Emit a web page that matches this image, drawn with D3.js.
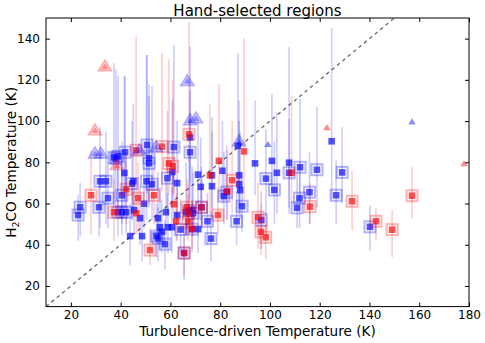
<!DOCTYPE html>
<html><head><meta charset="utf-8">
<script src="https://cdn.jsdelivr.net/npm/d3@7"></script>
<style>body{margin:0;background:#fff}text{font-family:"DejaVu Sans",sans-serif}</style>
</head><body><svg id="c" width="485" height="343"></svg>
<script>
// [x, y, errLow, errHigh, outlined]
const blueSquares = [
 [22.9,54.4,42,64,1],[23.7,58.2,44,70,1],[31.3,58.2,44,72,1],[31.7,70.8,48,97,1],[34.1,70.8,50,95,1],
 [34.9,62.6,48,80,1],[37.3,82.4,60,128,1],[38.1,81.8,58,125,1],[38.9,82.9,57,122,1],[38.9,55.8,44,78,1],
 [40.5,55.8,45,82,1],[42.2,55.8,46,85,1],[40.5,64.0,50,90,1],[41.5,74.8,58,122,0],[41.8,84.9,62,122,1],
 [44.6,69.7,52,100,1],[45.1,70.8,55,108,0],[45.4,56.8,45,72,0],[47.8,52.9,40,68,0],[49.4,59.9,48,78,0],
 [43.8,44.2,30,60,0],[48.6,44.2,32,58,0],[50.4,70.8,52,132,1],[52.6,69.4,52,117,1],[50.6,88.4,65,132,1],
 [51.4,82.0,60,118,1],[51.4,79.5,58,112,1],[54.4,44.2,34,60,1],[55.0,43.2,32,58,1],[55.0,52.9,40,75,0],
 [55.8,48.5,38,68,0],[57.8,40.3,28,52,1],[58.2,55.8,45,72,0],[61.4,87.4,65,137,1],[58.8,72.3,55,105,1],
 [60.8,75.3,58,110,0],[62.7,69.9,52,100,0],[59.0,48.5,36,65,0],[60.6,48.5,36,68,0],[64.1,47.4,36,62,1],
 [65.5,36.0,23,50,1],[62.7,54.4,42,72,0],[66.3,55.8,45,80,0],[67.5,56.5,45,85,1],[68.7,56.8,46,78,0],
 [69.1,55.3,44,75,1],[68.7,47.6,36,62,1],[71.1,47.6,36,62,0],[72.5,58.2,46,78,1],[67.9,92.1,70,136,0],
 [67.9,84.9,62,115,1],[71.1,74.0,58,100,0],[72.2,68.1,52,92,0],[76.7,73.7,58,102,0],[76.7,68.4,52,95,0],
 [74.9,51.4,40,65,1],[76.3,43.0,32,56,1],[80.9,75.9,60,100,0],[81.5,63.6,50,85,1],[82.6,65.5,52,88,1],
 [87.6,73.7,58,110,0],[87.6,69.4,55,100,0],[88.0,66.5,52,95,0],[86.6,51.4,40,66,1],[88.8,58.7,46,75,1],
 [87.1,88.0,70,133,0],[94.0,79.5,64,110,0],[100.8,80.7,65,113,0],[107.7,79.8,55,136,0],[112.1,77.6,60,111,1],
 [118.9,76.4,58,107,1],[124.8,90.2,62,145,0],[102.8,74.9,55,104,0],[107.7,74.9,58,101,1],[98.4,72.1,55,96,1],
 [101.8,66.6,50,90,1],[115.9,65.5,50,85,1],[111.9,62.6,48,80,1],[126.6,64.0,50,81,1],[129.0,75.1,60,97,1],
 [110.9,57.9,48,76,1],[96.5,52.0,38,66,1],[140.2,48.7,37,59,1],[56.5,46.3,36,62,0]
];
const redSquares = [
 [28.1,64.0,45,86,1],[37.3,55.8,42,72,1],[42.2,66.9,50,85,1],[46.2,55.3,45,70,0],[47.0,62.6,46,80,1],
 [53.4,64.0,50,78,1],[51.8,37.4,30,48,1],[46.2,85.8,70,141,1],[56.6,87.6,66,133,1],[67.5,93.6,80,148,1],
 [59.4,79.4,64,130,1],[60.9,78.1,64,120,1],[61.4,59.7,50,75,0],[62.3,51.4,42,65,0],[66.7,58.2,48,72,1],
 [67.3,55.3,45,70,1],[67.1,51.0,42,64,1],[75.9,73.7,55,108,0],[79.5,80.7,62,118,0],[79.1,54.4,45,68,1],
 [84.8,71.3,55,100,1],[89.6,85.3,62,140,0],[82.9,66.0,52,86,0],[95.2,53.3,38,70,1],[96.4,46.3,35,60,1],
 [98.3,43.6,33,56,1],[108.7,74.9,60,112,0],[116.1,58.5,50,70,1],[133.0,61.1,47,76,1],[142.6,51.4,42,58,1],
 [149.1,47.3,34,57,1],[157.1,63.8,53,78,1],[65.5,36.0,25,48,1],[68.7,47.6,38,60,0],[72.5,58.2,48,72,1]
];
// [x, y, outlined]
const redTriangles = [[33.7,126.5,1],[29.7,95.5,1],[38.5,78.6,1],[122.9,96.9,0],[178,79.4,0]];
const blueTriangles = [[29.7,84.2,1],[32.1,84.2,1],[66.8,119.4,1],[67.9,100.4,1],[70.3,101.3,1],
 [54.2,87.4,1],[47.5,85.8,1],[87.6,90.2,1],[99.2,88.7,0],[157.1,99.7,0]];
const xTicks = [20,40,60,80,100,120,140,160,180];
const yTicks = [20,40,60,80,100,120,140];
const title = "Hand-selected regions";
const xLabel = "Turbulence-driven Temperature (K)";

const svg = d3.select("#c");
const m = {l:46, r:16, t:18, b:36.4};
const W = 485, H = 343;
const x = d3.scaleLinear().domain([10,180]).range([m.l, W-m.r]);
const y = d3.scaleLinear().domain([10,150]).range([H-m.b, m.t]);

svg.append("defs").append("clipPath").attr("id","clip")
  .append("rect").attr("x",m.l).attr("y",m.t).attr("width",W-m.l-m.r).attr("height",H-m.t-m.b);
const g = svg.append("g").attr("clip-path","url(#clip)");

// dashed 1:1 line
g.append("line").attr("x1",x(10)).attr("y1",y(10)).attr("x2",x(150)).attr("y2",y(150))
  .attr("stroke","#6e6e6e").attr("stroke-width",1.4).attr("stroke-dasharray","3.5,3.5");

const BLUE = "#0000ff", RED = "#ff0000";
function errbars(data,col){
  g.append("g").selectAll("line").data(data).join("line")
    .attr("x1",d=>x(d[0])).attr("x2",d=>x(d[0])).attr("y1",d=>y(d[2])).attr("y2",d=>y(d[3]))
    .attr("stroke",col).attr("stroke-opacity",0.2).attr("stroke-width",1.6);
}
errbars(blueSquares,BLUE);
errbars(redSquares,RED);

function squares(data,col){
  const gg = g.append("g");
  gg.selectAll("rect.o").data(data.filter(d=>d[4])).join("rect").attr("class","o")
    .attr("x",d=>x(d[0])-5.5).attr("y",d=>y(d[1])-5.5).attr("width",11).attr("height",11)
    .attr("fill","none").attr("stroke",col).attr("stroke-opacity",0.3).attr("stroke-width",2);
  gg.selectAll("rect.f").data(data).join("rect").attr("class","f")
    .attr("x",d=>x(d[0])-3.3).attr("y",d=>y(d[1])-3.3).attr("width",6.6).attr("height",6.6)
    .attr("fill",col).attr("fill-opacity",0.68);
}
const tri = (cx,cy,s)=>`M${cx},${cy-s}L${cx+s*1.1},${cy+s*0.8}L${cx-s*1.1},${cy+s*0.8}Z`;
function triangles(data,col){
  const gg = g.append("g");
  gg.selectAll("path.o").data(data.filter(d=>d[2])).join("path").attr("class","o")
    .attr("d",d=>tri(x(d[0]),y(d[1])-0.3,5.6))
    .attr("fill","none").attr("stroke",col).attr("stroke-opacity",0.32).attr("stroke-width",2);
  gg.selectAll("path.f").data(data).join("path").attr("class","f")
    .attr("d",d=>tri(x(d[0]),y(d[1]),3.4))
    .attr("fill",col).attr("fill-opacity",0.45);
}
squares(blueSquares,BLUE);
squares(redSquares,RED);
triangles(blueTriangles,BLUE);
triangles(redTriangles,RED);

// frame
svg.append("rect").attr("x",m.l).attr("y",m.t).attr("width",W-m.l-m.r).attr("height",H-m.t-m.b)
  .attr("fill","none").attr("stroke","#000").attr("stroke-width",1);

// axes with inward ticks
const ax = svg.append("g").attr("transform",`translate(0,${H-m.b})`)
  .call(d3.axisBottom(x).tickValues(xTicks).tickSize(-4).tickPadding(4));
const axT = svg.append("g").attr("transform",`translate(0,${m.t})`)
  .call(d3.axisTop(x).tickValues(xTicks).tickSize(-4).tickFormat(""));
const ay = svg.append("g").attr("transform",`translate(${m.l},0)`)
  .call(d3.axisLeft(y).tickValues(yTicks).tickSize(-4).tickPadding(6));
const ayR = svg.append("g").attr("transform",`translate(${W-m.r},0)`)
  .call(d3.axisRight(y).tickValues(yTicks).tickSize(-4).tickFormat(""));
[ax,axT,ay,ayR].forEach(a=>{a.select(".domain").remove();
  a.selectAll("text").attr("font-size",12).attr("font-family","DejaVu Sans").attr("fill","#000");
  a.selectAll("line").attr("stroke","#000");});

svg.append("text").attr("x",(m.l+W-m.r)/2).attr("y",15.5).attr("text-anchor","middle")
  .attr("font-size",15).text(title);
svg.append("text").attr("x",(m.l+W-m.r)/2).attr("y",335.5).attr("text-anchor","middle")
  .attr("font-size",13.6).text(xLabel);
const yl = svg.append("text").attr("transform",`translate(16,${(m.t+H-m.b)/2}) rotate(-90)`)
  .attr("text-anchor","middle").attr("font-size",13.6);
yl.append("tspan").text("H");
yl.append("tspan").attr("font-size",9.5).attr("dy",3).text("2");
yl.append("tspan").attr("dy",-3).text("CO Temperature (K)");
</script></body></html>
